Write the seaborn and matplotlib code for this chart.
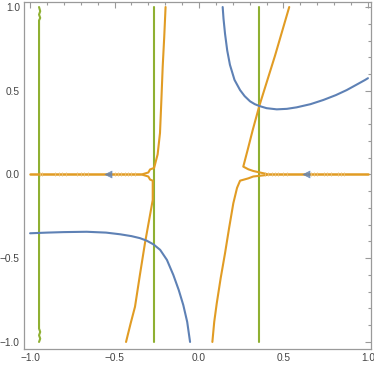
import matplotlib
matplotlib.use("Agg")
import numpy as np
import pandas as pd
import seaborn as sns
import matplotlib.pyplot as plt

# ---- data ----
# blue contour, lower-left branch
blue_ll_x = [-1.0, -0.9, -0.8, -0.665, -0.55, -0.467, -0.4, -0.35, -0.31, -0.27,
             -0.23, -0.19, -0.152, -0.12, -0.093, -0.07, -0.053]
blue_ll_y = [-0.351, -0.347, -0.344, -0.342, -0.347, -0.357, -0.368, -0.38, -0.395, -0.417,
             -0.45, -0.51, -0.60, -0.69, -0.78, -0.88, -1.0]
# blue contour, upper-right branch
blue_ur_x = [0.14, 0.145, 0.154, 0.167, 0.183, 0.21, 0.243, 0.27, 0.302, 0.33, 0.357,
             0.40, 0.46, 0.52, 0.578, 0.66, 0.736, 0.81, 0.874, 0.93, 0.982, 1.0]
blue_ur_y = [1.0, 0.93, 0.84, 0.74, 0.655, 0.565, 0.504, 0.468, 0.437, 0.42, 0.409,
             0.396, 0.389, 0.392, 0.401, 0.42, 0.445, 0.474, 0.504, 0.535, 0.564, 0.575]

# orange contour pieces
or_h_left_x = [-1.0, -0.33]
or_h_left_y = [0.0, 0.0]
or_h_right_x = [0.40, 1.0]
or_h_right_y = [0.0, 0.0]
or_ul_x = [-0.198, -0.206, -0.215, -0.223, -0.231, -0.245, -0.266, -0.29, -0.30, -0.33]
or_ul_y = [1.0, 0.82, 0.644, 0.44, 0.248, 0.12, 0.039, 0.03, 0.012, 0.003]
or_ll_x = [-0.432, -0.405, -0.379, -0.35, -0.32, -0.295, -0.274, -0.274, -0.29, -0.30, -0.33]
or_ll_y = [-1.0, -0.89, -0.79, -0.60, -0.41, -0.27, -0.152, -0.037, -0.03, -0.012, -0.003]
or_ur_x = [0.534, 0.45, 0.357, 0.318, 0.29, 0.262, 0.292, 0.321, 0.40]
or_ur_y = [1.0, 0.71, 0.41, 0.266, 0.155, 0.047, 0.031, 0.021, 0.003]
or_lr_x = [0.079, 0.09, 0.105, 0.128, 0.154, 0.178, 0.203, 0.225, 0.243, 0.292, 0.321, 0.40]
or_lr_y = [-1.0, -0.88, -0.769, -0.62, -0.47, -0.32, -0.172, -0.08, -0.037, -0.023, -0.012, -0.003]
# faint hatch marks along the y = 0 orange contour
hatch_x = [-0.94, -0.93, -0.85, -0.83, -0.81, -0.79, -0.72, -0.70, -0.68, -0.66,
           -0.52, -0.50, -0.48, -0.46, -0.44, -0.42, -0.40, -0.38,
           0.39, 0.41, 0.43, 0.45, 0.47, 0.50, 0.52, 0.64, 0.66, 0.68, 0.70,
           0.74, 0.76, 0.78, 0.82, 0.84, 0.86]

# green contours (vertical)
green_a_x = [-0.947, -0.940, -0.947, -0.940, -0.947, -0.947, -0.940, -0.947, -0.940, -0.947]
green_a_y = [1.0, 0.975, 0.955, 0.935, 0.92, -0.92, -0.94, -0.96, -0.98, -1.0]
green_b_x = [-0.266, -0.266]
green_b_y = [1.0, -1.0]
green_c_x = [0.357, 0.357]
green_c_y = [1.0, -1.0]

# blue arrow markers on the y = 0 line
mark_x = [-0.541, 0.633]
mark_y = [0.0, 0.0]

xticks = [-1.0, -0.5, 0.0, 0.5, 1.0]
xtick_labels = ["\u22121.0", "\u22120.5", "0.0", "0.5", "1.0"]
yticks = [-1.0, -0.5, 0.0, 0.5, 1.0]
ytick_labels = ["\u22121.0", "\u22120.5", "0.0", "0.5", "1.0"]

BLUE = "#5E81B5"
ORANGE = "#E19C24"
GREEN = "#8FB032"

sns.set_theme(style="white")
plt.rcParams["font.family"] = ["Liberation Sans", "DejaVu Sans"]

fig = plt.figure(figsize=(3.74, 3.67), dpi=100)
ax = fig.add_axes([24 / 374, 18 / 367, 347 / 374, 347 / 367])

def line(xs, ys, color, lw=1.5, **kw):
    sns.lineplot(x=xs, y=ys, sort=False, estimator=None, color=color,
                 linewidth=lw, ax=ax, **kw)

# green
line(green_a_x, green_a_y, GREEN)
line(green_b_x, green_b_y, GREEN)
line(green_c_x, green_c_y, GREEN)

# orange
line(or_h_left_x, or_h_left_y, ORANGE, lw=1.8)
line(or_h_right_x, or_h_right_y, ORANGE, lw=1.8)
line(or_ul_x, or_ul_y, ORANGE)
line(or_ll_x, or_ll_y, ORANGE)
line(or_ur_x, or_ur_y, ORANGE)
line(or_lr_x, or_lr_y, ORANGE)
sns.scatterplot(x=hatch_x, y=[0.0] * len(hatch_x), marker="|", s=7,
                color="#ECC27A", linewidth=0.6, ax=ax, zorder=3)

# blue
line(blue_ll_x, blue_ll_y, BLUE)
line(blue_ur_x, blue_ur_y, BLUE)
sns.scatterplot(x=mark_x, y=mark_y, marker="<", s=26, color=BLUE,
                edgecolor=BLUE, alpha=0.8, ax=ax, zorder=4)

ax.set_xlim(-1.036, 1.018)
ax.set_ylim(-1.042, 1.03)
ax.set_xticks(xticks)
ax.set_xticklabels(xtick_labels)
ax.set_yticks(yticks)
ax.set_yticklabels(ytick_labels)
ax.set_xticks(np.arange(-1.0, 1.01, 0.1), minor=True)
ax.set_yticks(np.arange(-1.0, 1.01, 0.1), minor=True)
ax.tick_params(which="both", direction="in", top=True, right=True,
               labeltop=False, labelright=False, color="#9a9a9a", width=0.8)
ax.tick_params(which="major", length=4, labelsize=7.3, labelcolor="#444444", pad=3)
ax.tick_params(which="minor", length=2.2)
for s in ax.spines.values():
    s.set_color("#9a9a9a")
    s.set_linewidth(0.9)
ax.set_xlabel("")
ax.set_ylabel("")
fig.savefig("out.png", dpi=100, facecolor="white")
